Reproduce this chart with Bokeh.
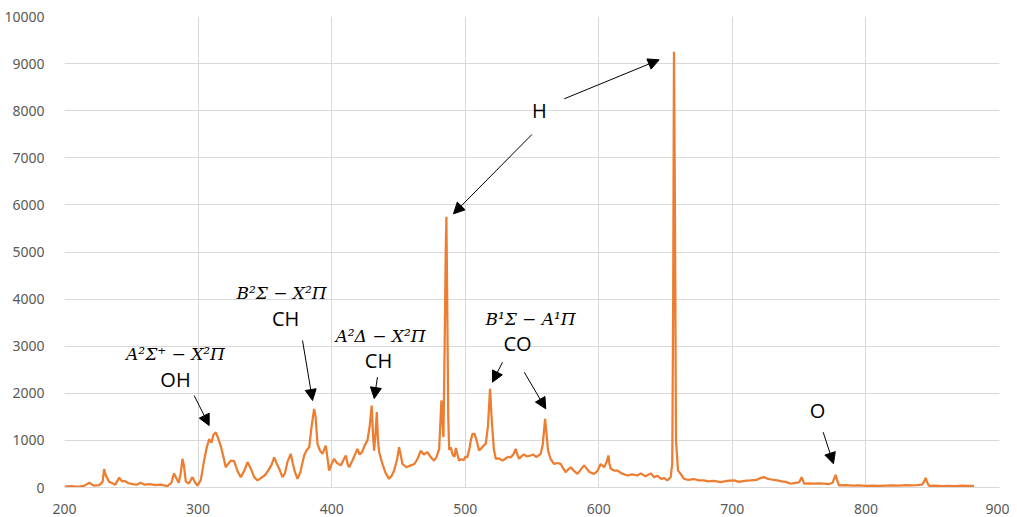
from bokeh.plotting import figure
from bokeh.embed import file_html
from bokeh.resources import INLINE
from bokeh.models import ColumnDataSource, Arrow, NormalHead, FixedTicker
from bokeh.core.properties import value

# spectrum: wavelength (nm) and intensity (a.u.)
wavelength = [200, 205, 210, 215, 218.5, 222, 226, 228.5, 229.7, 231, 233.5, 236, 238, 241, 243, 245, 248, 251, 254, 257, 260, 264, 268, 272, 277, 280, 282, 284, 285.5, 287, 288.3, 289.5, 290.8, 293, 295.8, 297.5, 299.5, 302, 304.5, 306.5, 308.3, 310, 311.5, 313.3, 315, 317, 319, 320.7, 322.5, 324.5, 327, 329.5, 332, 334.5, 337, 339.5, 342, 344.5, 347, 350, 353, 355, 357, 359, 361, 363.2, 365, 367, 369.4, 371, 372.5, 374.4, 376.5, 379.4, 381.5, 383.2, 385, 386.9, 388, 389.4, 391, 393.1, 395.6, 397, 398.1, 400, 401.9, 404, 406.8, 408.5, 410.6, 412, 413.1, 416, 419.3, 421, 423, 424.5, 426.8, 428.5, 430, 431, 431.8, 433, 433.8, 434.7, 435.6, 438, 440.5, 443, 445, 446.8, 449, 450.5, 452, 453, 456, 459.2, 462, 464.5, 466.7, 469, 471.7, 474, 476.7, 478.5, 480.5, 482.2, 483.2, 483.7, 484.6, 485.4, 485.9, 486.5, 487.3, 488, 489.2, 490.5, 492, 493, 494.2, 495.4, 497, 499, 500, 501.6, 503, 504.2, 505.4, 507, 508.5, 510.4, 512, 513.5, 515.4, 517, 518.6, 519.5, 520.4, 521.5, 522.9, 525, 528, 530, 532, 534, 536, 537.8, 539, 540.3, 542, 544, 546, 549, 551, 553, 555, 556.5, 558, 559.8, 561, 562, 564, 566.5, 569, 571.5, 573.5, 575.2, 577, 579, 581.5, 584, 586.5, 589, 591, 593, 596.4, 599, 601.4, 604, 606, 607.2, 608, 609, 611.5, 614, 617, 621.4, 625, 628.9, 631.4, 635, 638.9, 641.4, 644, 646.4, 649, 651.3, 653.8, 655, 655.7, 656.3, 657, 657.8, 659.3, 661, 663.8, 667, 671, 675, 678.7, 682, 686, 691.2, 696, 701.2, 705, 709, 713.6, 718, 721, 723.6, 726, 729, 733.6, 737, 740, 743.6, 747, 750, 751.9, 753.7, 757, 761, 765, 768.6, 772, 775, 777.3, 778.5, 779.8, 785, 790, 795, 800, 805, 810, 815, 820, 825, 830, 833.4, 838, 842, 843.5, 844.7, 846, 847.2, 852, 857, 862, 867, 872, 876, 880.9]
intensity = [20, 30, 15, 40, 100, 40, 50, 120, 390, 250, 120, 90, 60, 210, 130, 140, 90, 70, 60, 100, 60, 70, 50, 60, 30, 100, 300, 180, 100, 300, 610, 450, 130, 80, 220, 120, 40, 150, 570, 850, 1030, 950, 1120, 1170, 1050, 880, 650, 430, 500, 570, 560, 350, 220, 350, 540, 400, 220, 150, 200, 260, 380, 480, 640, 500, 380, 220, 300, 550, 715, 500, 330, 185, 320, 680, 800, 855, 1300, 1670, 1500, 930, 800, 715, 890, 600, 360, 500, 610, 520, 470, 560, 680, 500, 430, 600, 820, 700, 760, 880, 1000, 1300, 1740, 1100, 780, 1200, 1600, 1000, 750, 500, 300, 185, 250, 360, 600, 855, 650, 500, 430, 470, 500, 620, 780, 700, 750, 650, 570, 650, 820, 1850, 1300, 1070, 3000, 5000, 5750, 4000, 1500, 800, 855, 700, 650, 840, 700, 570, 600, 580, 650, 645, 800, 1000, 1140, 1140, 1000, 785, 830, 880, 930, 1300, 2095, 1600, 1210, 800, 610, 620, 570, 610, 650, 640, 700, 820, 700, 610, 660, 700, 660, 680, 700, 650, 680, 715, 900, 1460, 1100, 785, 600, 500, 520, 500, 400, 325, 380, 430, 350, 290, 380, 470, 400, 330, 290, 350, 500, 430, 550, 680, 500, 400, 360, 360, 300, 255, 280, 255, 300, 240, 300, 220, 250, 185, 200, 150, 220, 500, 4000, 9250, 6000, 1000, 360, 300, 185, 160, 180, 150, 150, 130, 140, 115, 140, 150, 120, 140, 150, 160, 200, 220, 190, 170, 150, 130, 120, 80, 100, 110, 220, 80, 90, 80, 90, 80, 70, 100, 270, 150, 45, 50, 40, 45, 35, 40, 35, 40, 45, 40, 50, 45, 50, 60, 120, 205, 100, 35, 40, 30, 35, 30, 40, 35, 35]

x_ticks = [200, 300, 400, 500, 600, 700, 800, 900]
y_ticks = [0, 1000, 2000, 3000, 4000, 5000, 6000, 7000, 8000, 9000, 10000]

# annotation texts and their positions (data units)
species_text = ["OH", "CH", "CH", "H", "CO", "O"]
species_x = [283.1, 365.5, 435.1, 555.6, 539.2, 763.7]
species_y = [2293, 3588, 2696, 8004, 3057, 1635]

term_text = ["A²Σ⁺ − X²Π", "B²Σ − X²Π", "A²Δ − X²Π", "B¹Σ − A¹Π"]
term_x = [283.1, 362.5, 436.6, 548.9]
term_y = [2845, 4140, 3206, 3588]

arrow_x0 = [297.1, 378.2, 434.3, 574.1, 549.9, 527.9, 544.2, 768.0]
arrow_y0 = [1953, 3121, 2342, 8252, 7494, 2660, 2448, 1174]
arrow_x1 = [308.3, 385.7, 431.9, 645.2, 491.2, 520.4, 560.3, 775.7]
arrow_y1 = [1316, 1847, 1889, 9080, 5811, 2236, 1671, 503]

p = figure(frame_width=935, frame_height=471, output_backend="svg",
           toolbar_location=None, x_range=(200, 900), y_range=(0, 10000),
           min_border_left=64, min_border_right=10, min_border_top=16,
           min_border_bottom=26)
p.outline_line_color = None
p.background_fill_color = "white"

p.line(wavelength, intensity, line_color="#ED7D31", line_width=2.25)

for ax in (p.xaxis[0], p.yaxis[0]):
    ax.major_tick_line_color = None
    ax.minor_tick_line_color = None
    ax.major_label_text_font = "Noto Sans"
    ax.major_label_text_font_size = "14px"
    ax.major_label_text_color = "#595959"
p.xaxis.ticker = FixedTicker(ticks=x_ticks)
p.yaxis.ticker = FixedTicker(ticks=y_ticks)
p.xaxis.axis_line_color = "#d9d9d9"
p.yaxis.axis_line_color = None
p.xaxis.major_label_standoff = 10
p.yaxis.major_label_standoff = 14
p.xgrid.ticker = FixedTicker(ticks=x_ticks)
p.ygrid.ticker = FixedTicker(ticks=y_ticks)
p.grid.grid_line_color = "#d9d9d9"
p.grid.grid_line_width = 1

arrows = ColumnDataSource(dict(x0=arrow_x0, y0=arrow_y0, x1=arrow_x1, y1=arrow_y1))
p.add_layout(Arrow(source=arrows, x_start="x0", y_start="y0", x_end="x1", y_end="y1",
                   line_color="#000000", line_width=1,
                   end=NormalHead(size=11, fill_color="#000000", line_color="#000000")))

p.text(species_x, species_y, text=species_text, text_font=value("Open Sans"),
       text_font_size="20px", text_align="center", text_baseline="middle",
       text_color="#000000")
p.text(term_x, term_y, text=term_text, text_font=value("DejaVu Serif"),
       text_font_style="italic", text_font_size="17px", text_align="center",
       text_baseline="middle", text_color="#000000")

open("out.html", "w").write(file_html(p, INLINE))
